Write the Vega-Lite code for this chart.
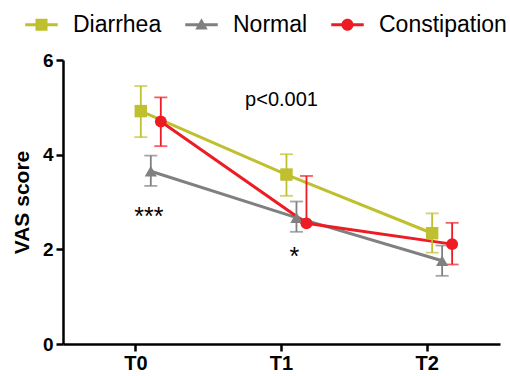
{
  "$schema": "https://vega.github.io/schema/vega-lite/v6.json",
  "autosize": "none",
  "width": 437,
  "height": 284,
  "padding": {"left": 63, "top": 60, "right": 10, "bottom": 32},
  "background": "white",
  "config": {
    "view": {"stroke": null},
    "font": "Liberation Sans"
  },
  "datasets": {
    "vas": [
      {"time": "T0", "group": "Diarrhea", "mean": 4.92, "lo": 4.37, "hi": 5.45},
      {"time": "T1", "group": "Diarrhea", "mean": 3.58, "lo": 3.13, "hi": 4.01},
      {"time": "T2", "group": "Diarrhea", "mean": 2.34, "lo": 1.93, "hi": 2.76},
      {"time": "T0", "group": "Normal", "mean": 3.65, "lo": 3.34, "hi": 3.98},
      {"time": "T1", "group": "Normal", "mean": 2.67, "lo": 2.37, "hi": 3.01},
      {"time": "T2", "group": "Normal", "mean": 1.76, "lo": 1.44, "hi": 2.08},
      {"time": "T0", "group": "Constipation", "mean": 4.70, "lo": 4.18, "hi": 5.21},
      {"time": "T1", "group": "Constipation", "mean": 2.55, "lo": 2.55, "hi": 3.55},
      {"time": "T2", "group": "Constipation", "mean": 2.11, "lo": 1.68, "hi": 2.56}
    ],
    "notes": [
      {"time": "T0", "group": "Normal", "y": 2.68, "label": "***"},
      {"time": "T1", "group": "Normal", "y": 1.83, "label": "*"}
    ],
    "ptext": [
      {"time": "T1", "y": 5.15, "label": "p<0.001"}
    ]
  },
  "encoding": {
    "x": {
      "field": "time", "type": "nominal",
      "scale": {"domain": ["T0", "T1", "T2"], "paddingInner": 0, "paddingOuter": 0},
      "axis": {
        "title": null, "labelAngle": 0, "domainColor": "black", "domainWidth": 2.5,
        "tickColor": "black", "tickWidth": 2.5, "tickSize": 7,
        "labelFont": "Liberation Sans", "labelFontWeight": "bold", "labelFontSize": 20,
        "labelColor": "black", "labelPadding": 2
      }
    }
  },
  "layer": [
    {
      "data": {"name": "vas"},
      "mark": {"type": "line", "strokeWidth": 3},
      "encoding": {
        "xOffset": {"field": "group", "type": "nominal",
          "scale": {"type": "point", "domain": ["Diarrhea", "Normal", "Constipation"], "range": [72.8, 102.8]}},
        "y": {"field": "mean", "type": "quantitative",
          "scale": {"domain": [0, 6]},
          "axis": {
            "values": [0, 2, 4, 6], "title": "VAS score", "grid": false,
            "domainColor": "black", "domainWidth": 2.5, "tickColor": "black", "tickWidth": 2.5, "tickSize": 7,
            "labelFont": "Liberation Sans", "labelFontWeight": "bold", "labelFontSize": 19, "labelColor": "black",
            "labelPadding": 3,
            "titleFont": "Liberation Sans", "titleFontWeight": "bold", "titleFontSize": 21, "titleColor": "black",
            "titlePadding": 10
          }},
        "color": {"field": "group", "type": "nominal",
          "scale": {"domain": ["Diarrhea", "Normal", "Constipation"], "range": ["#bfc02f", "#808080", "#ed1c24"]},
          "legend": {
            "orient": "none", "legendX": -38, "legendY": -52, "direction": "horizontal",
            "title": null, "labelFont": "Liberation Sans", "labelFontSize": 23, "labelColor": "black",
            "symbolSize": 1056, "labelOffset": 15, "columnPadding": 23,
            "symbolStrokeWidth": 0, "symbolOpacity": 1,
            "encode": {
              "symbols": {
                "update": {
                  "shape": {"signal": "datum.value === 'Diarrhea' ? 'M-1,-0.09H1V0.09H-1Z M-0.37,-0.37H0.37V0.37H-0.37Z' : datum.value === 'Normal' ? 'M-1,-0.09H1V0.09H-1Z M0,-0.4L0.38,0.3H-0.38Z' : 'M-1,-0.09H1V0.09H-1Z M0.37,0A0.37,0.37 0 1,1 -0.37,0A0.37,0.37 0 1,1 0.37,0Z'"},
                  "fill": {"scale": "color", "field": "value"},
                  "opacity": {"value": 1},
                  "strokeWidth": {"value": 0}
                }
              }
            }
          }}
      }
    },
    {
      "data": {"name": "vas"},
      "mark": {"type": "rule", "strokeWidth": 1.8},
      "encoding": {
        "xOffset": {"field": "group", "type": "nominal"},
        "y": {"field": "lo", "type": "quantitative"},
        "y2": {"field": "hi"},
        "color": {"field": "group", "type": "nominal"}
      }
    },
    {
      "data": {"name": "vas"},
      "mark": {"type": "tick", "size": 13, "thickness": 1.8, "orient": "horizontal"},
      "encoding": {
        "xOffset": {"field": "group", "type": "nominal"},
        "y": {"field": "hi", "type": "quantitative"},
        "color": {"field": "group", "type": "nominal"}
      }
    },
    {
      "data": {"name": "vas"},
      "mark": {"type": "tick", "size": 13, "thickness": 1.8, "orient": "horizontal"},
      "encoding": {
        "xOffset": {"field": "group", "type": "nominal"},
        "y": {"field": "lo", "type": "quantitative"},
        "color": {"field": "group", "type": "nominal"}
      }
    },
    {
      "data": {"name": "vas"},
      "transform": [{"filter": "datum.group === 'Diarrhea'"}],
      "mark": {"type": "point", "filled": true, "opacity": 1, "size": 155, "shape": "square"},
      "encoding": {
        "xOffset": {"field": "group", "type": "nominal"},
        "y": {"field": "mean", "type": "quantitative"},
        "color": {"field": "group", "type": "nominal"}
      }
    },
    {
      "data": {"name": "vas"},
      "transform": [{"filter": "datum.group === 'Normal'"}],
      "mark": {"type": "point", "filled": true, "opacity": 1, "size": 150, "shape": "triangle-up"},
      "encoding": {
        "xOffset": {"field": "group", "type": "nominal"},
        "y": {"field": "mean", "type": "quantitative"},
        "color": {"field": "group", "type": "nominal"}
      }
    },
    {
      "data": {"name": "vas"},
      "transform": [{"filter": "datum.group === 'Constipation'"}],
      "mark": {"type": "point", "filled": true, "opacity": 1, "size": 140, "shape": "circle"},
      "encoding": {
        "xOffset": {"field": "group", "type": "nominal"},
        "y": {"field": "mean", "type": "quantitative"},
        "color": {"field": "group", "type": "nominal"}
      }
    },
    {
      "data": {"name": "notes"},
      "mark": {"type": "text", "fontSize": 25, "font": "Liberation Sans", "color": "black", "baseline": "middle", "dx": -2},
      "encoding": {
        "xOffset": {"field": "group", "type": "nominal"},
        "y": {"field": "y", "type": "quantitative"},
        "text": {"field": "label"}
      }
    },
    {
      "data": {"name": "ptext"},
      "mark": {"type": "text", "fontSize": 20, "font": "Liberation Sans", "color": "black", "baseline": "middle"},
      "encoding": {
        "y": {"field": "y", "type": "quantitative"},
        "text": {"field": "label"}
      }
    }
  ]
}
